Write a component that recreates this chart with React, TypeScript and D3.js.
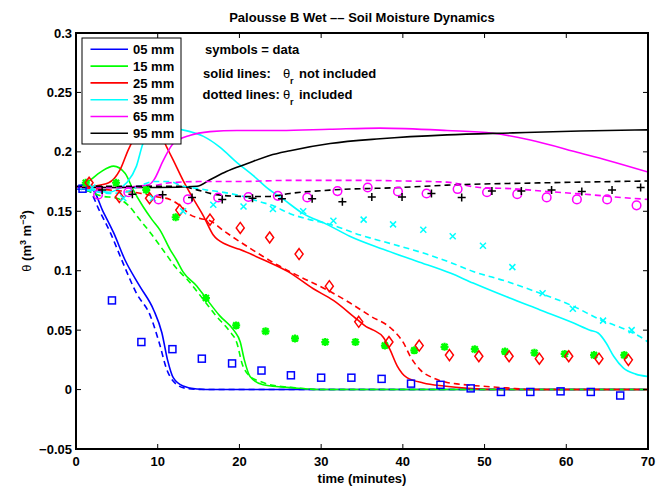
import React from "react";
import * as d3 from "d3";

// ---- measured data (time in minutes, theta in m3/m3) ----
const tSym05 = [0.8, 4.4, 8.0, 11.8, 15.4, 19.1, 22.7, 26.3, 30.0, 33.7, 37.4, 41.0, 44.6, 48.3, 52.0, 55.6, 59.3, 63.0, 66.6];
const thSym05 = [0.169, 0.075, 0.040, 0.034, 0.026, 0.022, 0.016, 0.012, 0.010, 0.010, 0.009, 0.005, 0.004, 0.001, -0.002, -0.002, -0.0015, -0.002, -0.005];
const tSym15 = [1.2, 4.9, 8.6, 12.2, 15.9, 19.6, 23.2, 26.8, 30.5, 34.2, 37.8, 41.4, 45.1, 48.8, 52.5, 56.1, 59.8, 63.4, 67.1];
const thSym15 = [0.174, 0.174, 0.168, 0.145, 0.077, 0.054, 0.049, 0.043, 0.040, 0.040, 0.037, 0.033, 0.036, 0.034, 0.032, 0.031, 0.030, 0.029, 0.029];
const tSym25 = [1.6, 5.3, 9.0, 12.7, 16.4, 20.1, 23.7, 27.3, 31.0, 34.6, 38.3, 42.0, 45.7, 49.3, 53.0, 56.7, 60.3, 64.0, 67.6];
const thSym25 = [0.174, 0.162, 0.161, 0.151, 0.143, 0.136, 0.128, 0.114, 0.087, 0.057, 0.040, 0.037, 0.029, 0.028, 0.028, 0.026, 0.028, 0.026, 0.025];
const tSym35 = [2.0, 5.8, 9.4, 13.1, 16.8, 20.5, 24.1, 27.8, 31.5, 35.2, 38.8, 42.5, 46.1, 49.8, 53.4, 57.1, 60.8, 64.5, 68.0];
const thSym35 = [0.170, 0.161, 0.161, 0.150, 0.1555, 0.154, 0.152, 0.150, 0.142, 0.143, 0.139, 0.1345, 0.129, 0.121, 0.103, 0.081, 0.068, 0.058, 0.050];
const tSym65 = [2.7, 6.4, 10.1, 13.7, 17.4, 21.1, 24.7, 28.3, 32.0, 35.7, 39.4, 42.9, 46.7, 50.3, 54.0, 57.6, 61.3, 65.0, 68.6];
const thSym65 = [0.164, 0.166, 0.160, 0.160, 0.1616, 0.162, 0.163, 0.1616, 0.167, 0.170, 0.1667, 0.165, 0.1687, 0.166, 0.1644, 0.1617, 0.160, 0.160, 0.155];
const tSym95 = [3.2, 6.9, 10.6, 14.2, 17.9, 21.6, 25.2, 28.9, 32.6, 36.2, 39.9, 43.5, 47.2, 50.9, 54.5, 58.2, 61.9, 65.6, 69.1];
const thSym95 = [0.168, 0.1644, 0.164, 0.1616, 0.160, 0.161, 0.1605, 0.1605, 0.158, 0.162, 0.162, 0.165, 0.1617, 0.167, 0.167, 0.168, 0.1667, 0.168, 0.170];

// solid lines: theta_r not included
const tSolid05 = [0, 2.0, 3.3, 4.6, 6.0, 7.8, 9.5, 10.5, 11.2, 11.9, 13.1, 14.8, 17, 70];
const thSolid05 = [0.169, 0.168, 0.150, 0.132, 0.109, 0.087, 0.067, 0.048, 0.025, 0.010, 0.003, 0.0005, 0, 0];
const tSolid15 = [0, 1.5, 3.0, 4.6, 6.0, 7.0, 8.2, 9.3, 10.3, 11.5, 12.3, 13.1, 14.8, 16, 17.6, 19.3, 20.1, 20.6, 21.3, 22.9, 26.6, 30, 70];
const thSolid15 = [0.170, 0.175, 0.183, 0.188, 0.182, 0.168, 0.154, 0.143, 0.134, 0.118, 0.109, 0.099, 0.087, 0.076, 0.062, 0.050, 0.040, 0.025, 0.011, 0.004, 0.0014, 0, 0];
const tSolid25 = [0, 2, 4, 5.4, 6.4, 7.0, 8.5, 9.8, 11.1, 11.9, 13.1, 14.4, 15.6, 16.8, 18.4, 20.0, 23.0, 26.0, 29.0, 31.5, 34.4, 35.5, 36.4, 37.6, 38.4, 39.3, 40.5, 42.5, 45, 48, 52, 70];
const thSolid25 = [0.170, 0.171, 0.174, 0.185, 0.2017, 0.21, 0.226, 0.222, 0.204, 0.193, 0.176, 0.160, 0.146, 0.130, 0.122, 0.118, 0.109, 0.099, 0.085, 0.075, 0.059, 0.053, 0.050, 0.044, 0.034, 0.020, 0.010, 0.0056, 0.003, 0.001, 0, 0];
const tSolid35 = [0, 2, 4, 5, 6.2, 7.4, 8.2, 9.5, 11, 12.7, 15.6, 17.6, 19.7, 21.7, 23.5, 25.4, 27.8, 30.7, 33.5, 37.6, 41.7, 45.8, 48.6, 52.7, 56.8, 60.9, 62.9, 63.9, 64.9, 65.8, 67, 68.5, 70];
const thSolid35 = [0.170, 0.168, 0.166, 0.168, 0.174, 0.188, 0.207, 0.218, 0.221, 0.219, 0.213, 0.204, 0.191, 0.180, 0.169, 0.160, 0.148, 0.139, 0.129, 0.118, 0.108, 0.098, 0.0896, 0.078, 0.067, 0.056, 0.050, 0.0476, 0.039, 0.028, 0.018, 0.013, 0.011];
const tSolid65 = [0, 5, 8.8, 9.5, 10.7, 11.9, 14, 16.4, 19.7, 25, 31, 37.2, 45.4, 51, 55.6, 61.7, 65, 70];
const thSolid65 = [0.170, 0.170, 0.172, 0.176, 0.193, 0.207, 0.214, 0.217, 0.218, 0.218, 0.219, 0.220, 0.218, 0.2157, 0.210, 0.199, 0.193, 0.183];
const tSolid95 = [0, 10, 14.8, 16.4, 18.4, 20.9, 23.7, 26.2, 31.1, 37.2, 45.4, 53.5, 61.7, 70];
const thSolid95 = [0.170, 0.170, 0.171, 0.1765, 0.1835, 0.190, 0.197, 0.201, 0.207, 0.211, 0.2143, 0.216, 0.2176, 0.2185];

// dotted lines: theta_r included
const tDash05 = [0, 1.6, 2.9, 4.2, 5.6, 7.4, 9.1, 10.2, 11.1, 12.1, 13.5, 16, 70];
const thDash05 = [0.169, 0.167, 0.150, 0.132, 0.109, 0.081, 0.062, 0.039, 0.017, 0.0056, 0.001, 0, 0];
const tDash15 = [0, 1.5, 3.0, 5.0, 6.4, 7.8, 9.1, 10.7, 12.3, 13.7, 15.6, 17.2, 18.8, 19.7, 20.3, 21.3, 22.5, 23.7, 26.2, 30, 70];
const thDash15 = [0.170, 0.167, 0.163, 0.161, 0.155, 0.143, 0.132, 0.117, 0.102, 0.092, 0.0756, 0.0616, 0.049, 0.039, 0.0224, 0.011, 0.007, 0.004, 0.002, 0, 0];
const tDash25 = [0, 4, 8, 10, 11.5, 12.7, 14, 15.2, 16.4, 18, 19.7, 21.5, 22.9, 24.6, 27.4, 30.7, 33.5, 36, 38.8, 40.1, 40.9, 42.1, 43.7, 45.4, 47, 49.4, 52.7, 56, 70];
const thDash25 = [0.170, 0.168, 0.165, 0.162, 0.160, 0.155, 0.147, 0.144, 0.142, 0.134, 0.126, 0.118, 0.112, 0.105, 0.095, 0.084, 0.073, 0.062, 0.050, 0.039, 0.028, 0.0168, 0.0098, 0.006, 0.0045, 0.003, 0.0014, 0, 0];
const tDash35 = [0, 2, 4, 6, 8, 9.5, 11.5, 12.7, 15, 18.8, 20.5, 22.5, 24, 26.2, 28.6, 31.1, 34.8, 38.4, 42.9, 45.8, 48.6, 52.7, 56.8, 60.9, 64.1, 67.4, 69.6, 70];
const thDash35 = [0.170, 0.167, 0.165, 0.166, 0.172, 0.175, 0.175, 0.172, 0.169, 0.165, 0.1625, 0.158, 0.155, 0.148, 0.143, 0.139, 0.130, 0.123, 0.114, 0.107, 0.0994, 0.091, 0.081, 0.070, 0.059, 0.050, 0.042, 0.040];
const tDash65 = [0, 5, 9, 11.5, 15, 19.7, 26, 35, 40, 45.4, 49.4, 53.4, 57.6, 62.9, 66, 70];
const thDash65 = [0.170, 0.170, 0.171, 0.174, 0.175, 0.175, 0.176, 0.176, 0.1755, 0.1745, 0.170, 0.169, 0.1667, 0.164, 0.162, 0.160];
const tDash95 = [0, 12.7, 14.8, 17.2, 20.5, 23.7, 26.2, 31.5, 39.7, 45.4, 57.6, 70];
const thDash95 = [0.171, 0.171, 0.168, 0.164, 0.1625, 0.1625, 0.165, 0.168, 0.170, 0.172, 0.174, 0.1755];

const depths = ["05 mm", "15 mm", "25 mm", "35 mm", "65 mm", "95 mm"];
const colors = ["#0000ff", "#00ff00", "#ff0000", "#00ffff", "#ff00ff", "#000000"];
const markers = ["square", "asterisk", "diamond", "x", "circle", "plus"];
const xTicks = [0, 10, 20, 30, 40, 50, 60, 70];
const yTicks = [-0.05, 0, 0.05, 0.1, 0.15, 0.2, 0.25, 0.3];

const symT = [tSym05, tSym15, tSym25, tSym35, tSym65, tSym95];
const symTh = [thSym05, thSym15, thSym25, thSym35, thSym65, thSym95];
const solidT = [tSolid05, tSolid15, tSolid25, tSolid35, tSolid65, tSolid95];
const solidTh = [thSolid05, thSolid15, thSolid25, thSolid35, thSolid65, thSolid95];
const dashT = [tDash05, tDash15, tDash25, tDash35, tDash65, tDash95];
const dashTh = [thDash05, thDash15, thDash25, thDash35, thDash65, thDash95];

const W = 664;
const H = 486;
const margin = { left: 76, right: 16, top: 33, bottom: 37 };
const font = "'Liberation Sans', Arial, Helvetica, sans-serif";

function Marker({ kind, x, y, color }: { kind: string; x: number; y: number; color: string }) {
  const sw = 1.5;
  if (kind === "square")
    return <rect x={x - 3.5} y={y - 3.5} width={7} height={7} fill="none" stroke={color} strokeWidth={sw} />;
  if (kind === "circle") return <circle cx={x} cy={y} r={4.3} fill="none" stroke={color} strokeWidth={sw} />;
  let d = "";
  if (kind === "diamond") d = `M${x},${y - 5.5}L${x + 4},${y}L${x},${y + 5.5}L${x - 4},${y}Z`;
  if (kind === "x") d = `M${x - 3},${y - 3}l6,6M${x - 3},${y + 3}l6,-6`;
  if (kind === "plus") d = `M${x - 4},${y}h8M${x},${y - 4}v8`;
  if (kind === "asterisk")
    d = `M${x - 4},${y}h8M${x},${y - 4}v8M${x - 3},${y - 3}l6,6M${x - 3},${y + 3}l6,-6`;
  return <path d={d} fill="none" stroke={color} strokeWidth={kind === "asterisk" ? 2.2 : sw} />;
}

export default function App() {
  const x = d3.scaleLinear().domain([0, 70]).range([margin.left, W - margin.right]);
  const y = d3.scaleLinear().domain([-0.05, 0.3]).range([H - margin.bottom, margin.top]);

  const line = (ts: number[], vs: number[]) =>
    d3
      .line<number>()
      .x((_, i) => x(ts[i]))
      .y((v) => y(v))
      .curve(d3.curveMonotoneX)(vs) || "";

  const x0 = x(0), x1 = x(70), y0 = y(-0.05), y1 = y(0.3);
  const tick = 5;

  return (
    <svg width={W} height={H} style={{ position: "absolute", left: 0, top: 0, background: "#fff" }} fontFamily={font}>
      <rect width={W} height={H} fill="#fff" />
      {/* title */}
      <text x={(x0 + x1) / 2} y={22} textAnchor="middle" fontSize={13} fontWeight="bold">
        Palousse B Wet –– Soil Moisture Dynamics
      </text>

      <defs>
        <clipPath id="plotclip">
          <rect x={x0} y={y1} width={x1 - x0} height={y0 - y1} />
        </clipPath>
      </defs>

      <g clipPath="url(#plotclip)">
        {depths.map((d, i) => (
          <path key={"s" + d} d={line(solidT[i], solidTh[i])} fill="none" stroke={colors[i]} strokeWidth={1.6} />
        ))}
        {depths.map((d, i) => (
          <path
            key={"d" + d}
            d={line(dashT[i], dashTh[i])}
            fill="none"
            stroke={colors[i]}
            strokeWidth={1.6}
            strokeDasharray="6,4"
          />
        ))}
        {depths.map((d, i) =>
          symT[i].map((t, j) => (
            <Marker key={d + j} kind={markers[i]} x={x(t)} y={y(symTh[i][j])} color={colors[i]} />
          ))
        )}
      </g>

      {/* ticks */}
      {xTicks.map((t) => (
        <g key={"xt" + t}>
          <line x1={x(t)} x2={x(t)} y1={y0} y2={y0 - tick} stroke="#000" strokeWidth={1} />
          <line x1={x(t)} x2={x(t)} y1={y1} y2={y1 + tick} stroke="#000" strokeWidth={1} />
          <text x={x(t)} y={y0 + 17} textAnchor="middle" fontSize={13} fontWeight="bold">
            {t}
          </text>
        </g>
      ))}
      {yTicks.map((v) => (
        <g key={"yt" + v}>
          <line x1={x0} x2={x0 + tick} y1={y(v)} y2={y(v)} stroke="#000" strokeWidth={1} />
          <line x1={x1} x2={x1 - tick} y1={y(v)} y2={y(v)} stroke="#000" strokeWidth={1} />
          <text x={x0 - 4} y={y(v) + 4.5} textAnchor="end" fontSize={13} fontWeight="bold">
            {v < 0 ? "\u2212" + d3.format("")(-v) : d3.format("")(v)}
          </text>
        </g>
      ))}

      {/* frame */}
      <rect x={x0} y={y1} width={x1 - x0} height={y0 - y1} fill="none" stroke="#000" strokeWidth={2} />

      {/* axis labels */}
      <text x={(x0 + x1) / 2} y={483} textAnchor="middle" fontSize={13} fontWeight="bold">
        time (minutes)
      </text>
      <text transform={`translate(31,${(y0 + y1) / 2}) rotate(-90)`} textAnchor="middle" fontSize={13} fontWeight="bold">
        <tspan fontWeight="normal">θ</tspan> (m
        <tspan dy={-5} fontSize={9}>3</tspan>
        <tspan dy={5}> m</tspan>
        <tspan dy={-5} fontSize={9}>−3</tspan>
        <tspan dy={5}>)</tspan>
      </text>

      {/* legend */}
      <rect x={82} y={38} width={99} height={106} fill="#fff" stroke="#000" strokeWidth={1} />
      {depths.map((d, i) => (
        <g key={"lg" + d}>
          <line x1={90.5} x2={128} y1={49.3 + i * 16.8} y2={49.3 + i * 16.8} stroke={colors[i]} strokeWidth={1.6} />
          <text x={133} y={54 + i * 16.8} fontSize={13} fontWeight="bold">
            {d}
          </text>
        </g>
      ))}

      {/* annotations */}
      <text x={205} y={54} fontSize={13} fontWeight="bold">
        symbols = data
      </text>
      <text x={203} y={77.5} fontSize={13} fontWeight="bold">
        solid lines:
      </text>
      <text x={283} y={77.5} fontSize={13}>θ</text>
      <text x={290} y={84} fontSize={9} fontWeight="bold">r</text>
      <text x={299} y={77.5} fontSize={13} fontWeight="bold">
        not included
      </text>
      <text x={202.5} y={98.5} fontSize={13} fontWeight="bold">
        dotted lines:
      </text>
      <text x={283} y={98.5} fontSize={13}>θ</text>
      <text x={290} y={105} fontSize={9} fontWeight="bold">r</text>
      <text x={299} y={98.5} fontSize={13} fontWeight="bold">
        included
      </text>
    </svg>
  );
}
